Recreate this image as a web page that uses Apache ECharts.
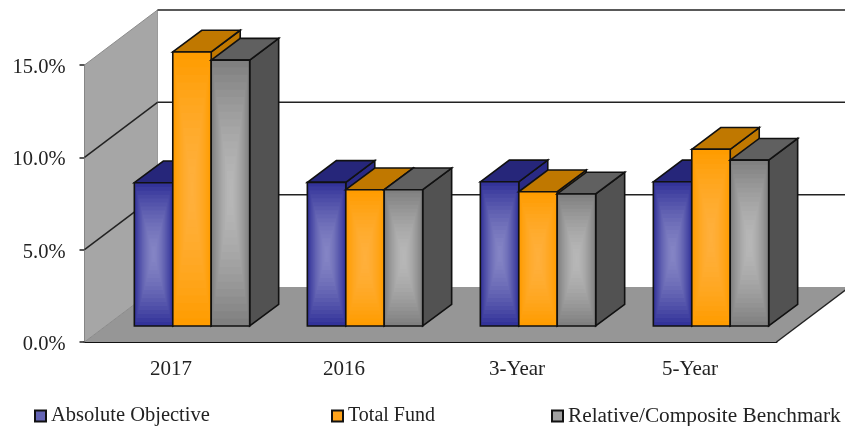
<!DOCTYPE html>
<html>
<head>
<meta charset="utf-8">
<style>
  html, body { margin: 0; padding: 0; background: #fff; }
  #chart { width: 845px; height: 426px; }
</style>
<script src="https://cdn.jsdelivr.net/npm/echarts@6/dist/echarts.min.js"></script>
</head>
<body>
<div id="chart"></div>
<script>
const categories = ["2017", "2016", "3-Year", "5-Year"];
const absoluteObjective = [7.76, 7.78, 7.81, 7.81];
const totalFund = [14.84, 7.38, 7.27, 9.57];
const relativeBenchmark = [14.4, 7.38, 7.15, 8.98];
const yTicks = [0, 5, 10, 15];

const seriesNames = ["Absolute Objective", "Total Fund", "Relative/Composite Benchmark"];
const fontFamily = '"Liberation Serif", serif';

// 假3D：整个图表的进深偏移
const chartDepth = [73, -55];
const barFront = [21, -16];
const barDepth = [29, -21.7];

const palette = [
  { edge: [51, 51, 153], center: [133, 133, 197], top: "#26267a", side: "#2a2a85", legend: "#6464b4" },
  { edge: [255, 156, 0], center: [255, 176, 60], top: "#c07800", side: "#c07800", legend: "#ffa31a" },
  { edge: [128, 128, 128], center: [184, 184, 184], top: "#606060", side: "#525252", legend: "#a0a0a0" }
];

function lerpColor(a, b, t) {
  const c = a.map((v, i) => Math.round(v + (b[i] - v) * t));
  return "rgb(" + c.join(",") + ")";
}

function polygon(points, fill, stroke, lineWidth) {
  return {
    type: "polygon",
    shape: { points },
    style: { fill: fill, stroke: stroke || null, lineWidth: lineWidth || 0 }
  };
}

function line(p1, p2, stroke, lineWidth) {
  return {
    type: "line",
    shape: { x1: p1[0], y1: p1[1], x2: p2[0], y2: p2[1] },
    style: { stroke: stroke, lineWidth: lineWidth }
  };
}

function renderWalls(params, api) {
  const sys = params.coordSys;
  const left = sys.x;
  const right = sys.x + sys.width;
  const [dx, dy] = chartDepth;
  const y0 = api.coord([0, 0])[1];
  const yMax = api.coord([0, yTicks[yTicks.length - 1]])[1];
  const children = [
    polygon([[left, y0], [left + dx, y0 + dy], [left + dx, yMax + dy], [left, yMax]], "#a6a6a6"),
    polygon([[left, y0], [right, y0], [right + dx, y0 + dy], [left + dx, y0 + dy]], "#969696"),
    line([left + dx, yMax + dy], [left + dx, y0 + dy], "#9a9a9a", 1),
    line([left, yMax], [left + dx, yMax + dy], "#8c8c8c", 1),
    line([left, y0], [left + dx, y0 + dy], "#8a8a8a", 1),
    line([right, y0], [right + dx, y0 + dy], "#222", 1.5)
  ];
  yTicks.slice(1).forEach((v) => {
    const y = api.coord([0, v])[1];
    children.push(line([left + dx, y + dy], [right + dx, y + dy], "#222", 1.5));
    if (v < yTicks[yTicks.length - 1]) {
      children.push(line([left, y], [left + dx, y + dy], "#222", 1.5));
    }
  });
  return { type: "group", children };
}

function makeBarRenderer(seriesIndex) {
  const colors = palette[seriesIndex];
  return function (params, api) {
    const point = api.coord([api.value(0), api.value(1)]);
    const base = api.coord([api.value(0), 0]);
    const barWidth = api.size([1, 0])[0] * 2 / 9;
    const x = point[0] + (seriesIndex - 1.5) * barWidth + barFront[0];
    const top = point[1] + barFront[1];
    const bottom = base[1] + barFront[1];
    const height = bottom - top;
    const [dx, dy] = barDepth;
    const children = [
      polygon([[x + barWidth, top], [x + barWidth + dx, top + dy], [x + barWidth + dx, bottom + dy], [x + barWidth, bottom]], colors.side, "#111", 1.6),
      polygon([[x, top], [x + dx, top + dy], [x + barWidth + dx, top + dy], [x + barWidth, top]], colors.top, "#111", 1.6)
    ];
    // 用一层层缩小的矩形模拟矩形渐变
    const steps = 18;
    for (let i = 0; i < steps; i++) {
      const t = i / steps;
      children.push({
        type: "rect",
        shape: {
          x: x + t * barWidth / 2,
          y: top + t * height / 2,
          width: barWidth * (1 - t),
          height: height * (1 - t)
        },
        style: { fill: lerpColor(colors.edge, colors.center, 1 - Math.pow(1 - t, 1.6)) }
      });
    }
    children.push({
      type: "rect",
      shape: { x: x, y: top, width: barWidth, height: height },
      style: { fill: "none", stroke: "#111", lineWidth: 1.6 }
    });
    return { type: "group", children };
  };
}

function barSeries(index, values) {
  return {
    type: "custom",
    name: seriesNames[index],
    renderItem: makeBarRenderer(index),
    encode: { x: 0, y: 1 },
    data: values.map((v, i) => [i, v]),
    z: 3 + index,
    silent: true
  };
}

function legendFor(index, left, fontSize) {
  return {
    left: left,
    top: 404,
    padding: 0,
    itemWidth: 11,
    itemHeight: 11,
    itemGap: 4,
    selectedMode: false,
    data: [{
      name: seriesNames[index],
      icon: "rect",
      itemStyle: { color: palette[index].legend, borderColor: "#111", borderWidth: 2 }
    }],
    textStyle: { fontFamily: fontFamily, fontSize: fontSize, lineHeight: 22, color: "#222", padding: [2, 0, 0, 0] }
  };
}

const chart = echarts.init(document.getElementById("chart"));
chart.setOption({
  animation: false,
  backgroundColor: "#fff",
  grid: { left: 84.5, right: 68.5, top: 65, bottom: 84 },
  legend: [legendFor(0, 34, 20.5), legendFor(1, 331, 20), legendFor(2, 551, 21.3)],
  xAxis: {
    type: "category",
    data: categories,
    axisLine: { lineStyle: { color: "#111", width: 2 } },
    axisTick: { show: false },
    axisLabel: { margin: 17, fontFamily: fontFamily, fontSize: 21, color: "#222" }
  },
  yAxis: {
    type: "value",
    min: 0,
    max: 15,
    interval: 5,
    splitLine: { show: false },
    axisLine: { show: true, lineStyle: { color: "#333", width: 1.5 } },
    axisTick: { show: true, length: 5, lineStyle: { color: "#222", width: 1.5 } },
    axisLabel: {
      margin: 19,
      formatter: (v) => "{tick|" + v.toFixed(1) + "%}",
      rich: {
        tick: { fontFamily: fontFamily, fontSize: 20.5, color: "#222", padding: [5, 0, 0, 0] }
      }
    }
  },
  series: [
    {
      type: "custom",
      renderItem: renderWalls,
      encode: { x: 0, y: 1 },
      data: [[0, 0]],
      z: 1,
      silent: true
    },
    barSeries(0, absoluteObjective),
    barSeries(1, totalFund),
    barSeries(2, relativeBenchmark)
  ]
});
</script>
</body>
</html>
